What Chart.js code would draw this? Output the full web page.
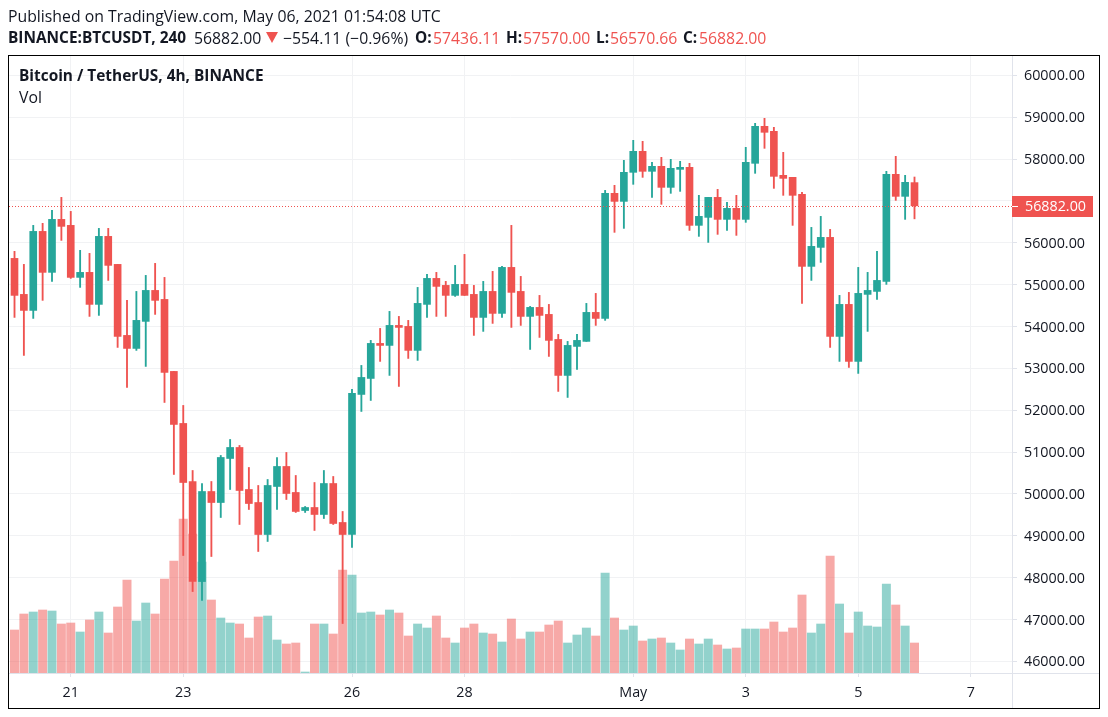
<!DOCTYPE html>
<html lang="en">
<head>
<meta charset="UTF-8">
<title>BINANCE:BTCUSDT, 240</title>
<script src="https://cdn.jsdelivr.net/npm/chart.js@4/dist/chart.umd.min.js"></script>
<style>
  * { box-sizing: border-box; margin: 0; padding: 0; }
  html, body { width: 1108px; height: 717px; background: #fff; overflow: hidden; }
  body { position: relative; font-family: 'Open Sans', 'Noto Sans', sans-serif; color: #131722; }
  canvas { position: absolute; left: 0; top: 0; }
  .frame { position: absolute; left: 8px; top: 55px; width: 1092px; height: 654px; border: 1.5px solid #000; pointer-events: none; }
  .t { position: absolute; white-space: nowrap; font-size: 15.8px; line-height: 20px; }
  .b { font-weight: 700; }
  .bb { font-size: 15.4px; }
  .r { color: #ef5350; }
  .tri { position: absolute; left: 266px; top: 32px; width: 0; height: 0;
         border-left: 6px solid transparent; border-right: 6px solid transparent; border-top: 11px solid #ef5350; }
</style>
</head>
<body>
<canvas id="chart" width="1108" height="717"></canvas>
<div class="frame"></div>
<div class="t" style="left:8px;top:6px">Published on TradingView.com, May 06, 2021 01:54:08 UTC</div>
<div class="t b bb" style="left:8px;top:28px">BINANCE:BTCUSDT, 240</div>
<div class="t" style="left:194px;top:28px">56882.00</div>
<div class="tri"></div>
<div class="t" style="left:283px;top:28px">−554.11 (−0.96%)</div>
<div class="t b bb" style="left:415px;top:28px">O:</div><div class="t r" style="left:433px;top:28px">57436.11</div>
<div class="t b bb" style="left:506px;top:28px">H:</div><div class="t r" style="left:523px;top:28px">57570.00</div>
<div class="t b bb" style="left:596px;top:28px">L:</div><div class="t r" style="left:610px;top:28px">56570.66</div>
<div class="t b bb" style="left:683px;top:28px">C:</div><div class="t r" style="left:699px;top:28px">56882.00</div>
<div class="t b bb" style="left:19px;top:66px">Bitcoin / TetherUS, 4h, BINANCE</div>
<div class="t" style="left:19px;top:87px">Vol</div>
<script>
// ── Data ─────────────────────────────────────────────────────────────────────
const opens = [55626,54766,54383,56271,55292,56558,56415,55172,55292,54527,56152,55483,53786,53475,54121,54861,54646,52926,51683,50296,47906,50057,49794,50846,51109,50105,49794,49030,50177,50655,50034,49603,49675,49508,50248,49317,49030,52376,52758,53595,53547,54025,54001,53428,54527,55148,54981,54742,55005,54766,54216,54837,54312,55411,54837,54240,54455,54288,53690,52830,53523,53643,54336,54192,57180,56988,57682,58184,57706,57825,57323,57753,57801,56415,56606,57084,56558,56821,56558,57897,58781,58662,57610,57562,57156,55435,55889,56128,53762,54527,53165,54766,54837,55077,57634,57108,57436.11];
const highs = [55794,55483,56415,56463,56773,57084,56749,55818,55746,56343,56343,55483,54623,54837,55220,55507,55172,52926,52113,50559,50248,50296,50918,51300,51157,50631,50201,50344,50870,50990,50440,49699,50272,50559,50416,49580,52495,53069,53667,53953,54360,54240,54145,54933,55244,55292,55077,55459,55722,54981,55077,55316,55435,56415,55196,54479,54742,54527,53810,53643,53810,54551,54790,57251,57371,57968,58447,58423,57921,58040,57992,57945,57897,57132,57084,57275,56965,57132,58279,58853,58972,58757,58160,57562,57204,56367,56630,56319,54742,54814,55411,55292,55794,57706,58064,57610,57570];
const lows = [54216,53308,54192,54623,55077,56056,55148,54933,54240,54264,55100,53499,52543,53428,53045,54288,52184,50464,48528,47667,47453,48504,49436,50105,49269,49627,48624,48863,49627,49866,49556,49556,49126,49412,49269,46903,48719,51969,52232,53165,52830,52567,53236,53189,54216,54240,54240,54718,54742,53786,53882,54073,54216,53977,54025,53451,53738,53284,52448,52304,52974,53643,54025,54145,56248,56343,57395,57562,57084,56917,57180,57227,56295,56152,56008,56200,56295,56176,56487,57658,58255,57299,57132,56415,54551,55100,55531,53499,53165,53021,52878,53882,54646,55005,57012,56558,56570.66];
const closes = [54742,54383,56271,55292,56558,56391,55172,55292,54527,56152,55459,53762,53475,54145,54861,54623,52902,51659,50272,47906,50057,49794,50870,51109,50081,49770,49030,50201,50655,50010,49580,49675,49508,50248,49293,49030,52400,52782,53595,53547,54025,53977,53428,54551,55148,54957,54742,55005,54742,54216,54837,54312,55411,54814,54240,54455,54264,53667,52830,53547,53667,54336,54192,57180,56988,57682,58184,57706,57825,57323,57777,57801,56415,56630,57084,56558,56821,56558,57921,58781,58638,57586,57538,57132,55435,55913,56128,53762,54527,53165,54790,54861,55100,57634,57108,57443,56882];
const volumes = [4300,5900,6100,6300,6200,4900,5000,4100,5300,6100,4000,6600,9300,5200,7000,5900,9400,11200,15400,13900,11100,7300,5500,5000,4900,3500,5600,5700,3300,2900,3000,100,4900,4900,3900,10300,9800,6000,6100,5800,6300,6000,3700,4900,4500,5700,3500,3000,4500,4900,4000,3900,3100,5400,3400,4100,4100,4800,5200,3000,3800,4500,3700,10000,5500,4300,4700,3200,3400,3500,3000,2300,3400,2900,3400,2800,2400,2500,4400,4400,4400,5100,4100,4500,7800,4000,4900,11700,6900,4000,6100,4700,4600,8900,6800,4700,3000];

const priceTicks = [46000,47000,48000,49000,50000,51000,52000,53000,54000,55000,56000,57000,58000,59000,60000];
const dateTickBars = [6,18,36,48,66,78,90,102];
const dateTickLabels = ['21','23','26','28','May','3','5','7'];
const lastPrice = 56882;

// ── Colours ──────────────────────────────────────────────────────────────────
const UP = '#26a69a';
const DOWN = '#ef5350';
const UP_VOL = 'rgba(38,166,154,.5)';
const DOWN_VOL = 'rgba(239,83,80,.5)';
const GRID = '#f1f2f4';
const AXIS = '#e0e3eb';
const TEXT = '#131722';
const FONT = "'Open Sans', 'Noto Sans', sans-serif";

const isDown = (i) => closes[i] < opens[i];
const candleColors = opens.map((_, i) => (isDown(i) ? DOWN : UP));
const volColors = opens.map((_, i) => (isDown(i) ? DOWN_VOL : UP_VOL));

// Last-price line and tag, plus the axis dividers outside the plot
const lastPricePlugin = {
  id: 'lastPrice',
  afterDraw(chart) {
    const { ctx, chartArea: a, scales } = chart;
    const y = Math.round(scales.y.getPixelForValue(lastPrice)) + 0.5;
    ctx.save();
    ctx.strokeStyle = AXIS;
    ctx.lineWidth = 1;
    ctx.beginPath();
    ctx.moveTo(a.right + 0.5, a.bottom);
    ctx.lineTo(a.right + 0.5, 708);
    ctx.moveTo(a.right, a.bottom + 0.5);
    ctx.lineTo(1099, a.bottom + 0.5);
    ctx.stroke();
    ctx.strokeStyle = DOWN;
    ctx.setLineDash([1, 2]);
    ctx.beginPath();
    ctx.moveTo(a.left, y);
    ctx.lineTo(a.right, y);
    ctx.stroke();
    ctx.setLineDash([]);
    ctx.fillStyle = DOWN;
    ctx.fillRect(a.right, y - 10.5, 81, 21);
    ctx.strokeStyle = '#fff';
    ctx.beginPath();
    ctx.moveTo(a.right, y);
    ctx.lineTo(a.right + 6, y);
    ctx.stroke();
    ctx.fillStyle = '#fff';
    ctx.font = `14.3px ${FONT}`;
    ctx.textBaseline = 'middle';
    ctx.fillText(lastPrice.toFixed(2), a.right + 13, y + 0.5);
    ctx.restore();
  },
};

const bars = opens.map((_, i) => i);

new Chart(document.getElementById('chart'), {
  type: 'bar',
  data: {
    datasets: [
      {
        label: 'Candle body',
        data: bars.map((i) => ({ x: i, y: [opens[i], closes[i]] })),
        backgroundColor: candleColors,
        barThickness: 7,
        grouped: false,
        order: 1,
      },
      {
        label: 'Wick',
        data: bars.map((i) => ({ x: i, y: [lows[i], highs[i]] })),
        backgroundColor: candleColors,
        barThickness: 1.2,
        grouped: false,
        order: 2,
      },
      {
        label: 'Vol',
        data: bars.map((i) => ({ x: i, y: volumes[i] })),
        backgroundColor: volColors,
        barThickness: 8.3,
        grouped: false,
        yAxisID: 'vol',
        order: 3,
      },
    ],
  },
  options: {
    responsive: false,
    animation: false,
    events: [],
    layout: { padding: { left: 9, top: 56, right: 8, bottom: 8 } },
    plugins: { legend: { display: false }, tooltip: { enabled: false } },
    scales: {
      x: {
        type: 'linear',
        offset: false,
        min: -0.587,
        max: 106.4,
        afterBuildTicks(scale) { scale.ticks = dateTickBars.map((value) => ({ value })); },
        afterFit(scale) { scale.height = 36; },
        grid: { color: GRID, tickColor: AXIS, tickLength: 4, offset: false },
        border: { color: AXIS },
        ticks: {
          autoSkip: false,
          maxRotation: 0,
          padding: 7,
          color: TEXT,
          font: { family: FONT, size: 14.3 },
          callback: (value) => dateTickLabels[dateTickBars.indexOf(value)],
        },
      },
      y: {
        position: 'right',
        min: 45721,
        max: 60461,
        afterBuildTicks(scale) { scale.ticks = priceTicks.map((value) => ({ value })); },
        afterFit(scale) { scale.width = 88; },
        grid: { color: GRID, tickColor: AXIS, tickLength: 5 },
        border: { color: AXIS },
        ticks: {
          autoSkip: false,
          padding: 7,
          labelOffset: 1,
          color: TEXT,
          font: { family: FONT, size: 14.3 },
          callback: (value) => value.toFixed(2),
        },
      },
      vol: { display: false, min: 0, max: 61700 },
    },
  },
  plugins: [lastPricePlugin],
});
</script>
</body>
</html>
